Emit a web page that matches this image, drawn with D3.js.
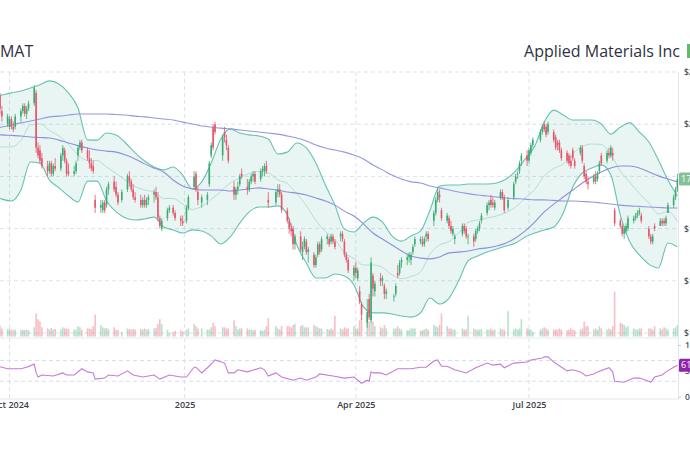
<!DOCTYPE html>
<html><head><meta charset="utf-8">
<script src="https://cdn.jsdelivr.net/npm/d3@7"></script>
<style>
html,body{margin:0;padding:0;background:#fff;overflow:hidden;}
svg{display:block;font-family:"Open Sans","Noto Sans",sans-serif;}
</style>
</head><body>
<svg id="chart" width="690" height="450"></svg>
<script>
// ---------- DATA ----------
const ticker = "AMAT";
const companyName = "Applied Materials Inc";

const months = ["2024-09","2024-10","2024-11","2024-12","2025-01","2025-02","2025-03","2025-04","2025-05","2025-06","2025-07","2025-08","2025-09"];
const sessionDays = [
  [23,24,25,26,27,30],
  [1,2,3,4,7,8,9,10,11,14,15,16,17,18,21,22,23,24,25,28,29,30,31],
  [1,4,5,6,7,8,11,12,13,14,15,18,19,20,21,22,25,26,27,29],
  [2,3,4,5,6,9,10,11,12,13,16,17,18,19,20,23,24,26,27,30,31],
  [2,3,6,7,8,10,13,14,15,16,17,21,22,23,24,27,28,29,30,31],
  [3,4,5,6,7,10,11,12,13,14,18,19,20,21,24,25,26,27,28],
  [3,4,5,6,7,10,11,12,13,14,17,18,19,20,21,24,25,26,27,28,31],
  [1,2,3,4,7,8,9,10,11,14,15,16,17,21,22,23,24,25,28,29,30],
  [1,2,5,6,7,8,9,12,13,14,15,16,19,20,21,22,23,27,28,29,30],
  [2,3,4,5,6,9,10,11,12,13,16,17,18,20,23,24,25,26,27,30],
  [1,2,3,7,8,9,10,11,14,15,16,17,18,21,22,23,24,25,28,29,30,31],
  [1,4,5,6,7,8,11,12,13,14,15,18,19,20,21,22,25,26,27,28,29],
  [2,3,4,5,8,9,10,11,12,15,16,17]
];

const opens = [
  190,193,195,211,205,200,
  199,202,199,199,203,205,207,204,206,208,212,191,190,187,184,182,185,181,184,183,188,190,186,
  182,181,182,188,191,193,190,187,185,184,171,168,167,170,169,175,178,176,173,171,
  175,180,178,175,172,171,169,171,169,171,173,174,172,164,160,164,167,168,166,164,163,
  163,168,176,181,174,170,171,177,188,199,200,188,197,194,191,176,173,175,177,181,
  176,175,178,180,181,179,182,182,184,171,170,174,175,173,167,163,160,160,154,
  157,151,153,155,151,150,146,150,154,152,156,156,155,157,155,157,158,155,150,148,142,
  145,141,136,131,124,133,125,142,136,141,140,138,135,134,135,143,143,147,148,149,148,
  151,154,155,155,154,157,158,163,166,171,173,167,163,164,161,158,156,158,161,160,157,
  157,156,159,160,163,166,169,171,170,168,172,174,172,168,172,178,181,182,186,188,
  186,189,192,194,197,200,199,197,197,195,193,193,190,189,188,186,190,186,189,191,184,181,
  178,178,180,179,182,188,186,189,188,189,167,163,161,158,159,160,163,164,165,166,165,
  160,157,155,161,161,163,163,162,166,169,172,175
];
const highs = [
  193,196,197,212,207,204,
  203,203,201,204,206,208,208,207,209,215,213,193,192,189,186,186,186,185,187,189,192,191,187,
  185,184,186,192,194,194,191,190,187,186,173,171,171,171,176,178,180,178,174,175,
  181,182,179,177,174,173,172,173,172,173,175,176,174,165,164,168,169,169,167,165,165,
  169,173,182,182,176,173,174,186,193,200,201,196,199,196,192,178,176,178,181,183,
  179,179,181,182,182,183,184,185,186,174,175,177,177,174,168,164,162,161,158,
  159,155,157,156,153,151,150,155,155,157,158,157,158,158,156,159,159,156,151,149,146,
  147,145,138,132,133,135,149,143,140,143,142,139,137,135,139,146,148,149,150,151,151,
  154,157,157,157,157,159,159,167,172,176,175,168,166,165,163,161,158,162,162,161,158,
  158,160,161,163,166,170,171,173,172,171,175,175,173,172,178,181,182,186,189,190,
  191,193,195,198,200,201,200,201,198,196,194,194,191,190,189,188,191,187,192,192,185,182,
  180,181,182,182,186,189,190,191,192,191,168,164,162,161,162,165,165,166,167,168,166,
  161,158,158,162,164,164,164,165,170,173,176,181
];
const lows = [
  189,191,193,204,201,199,
  198,198,197,198,201,204,203,202,205,207,189,187,185,183,180,181,180,180,182,182,186,185,180,
  180,180,181,186,190,189,186,183,182,181,166,166,166,166,168,173,174,172,169,170,
  174,176,174,171,170,168,168,168,168,169,170,171,163,160,159,163,166,165,163,161,161,
  162,167,175,174,169,168,169,176,187,190,196,186,193,190,185,171,171,173,176,179,
  173,174,177,178,177,178,180,180,181,168,169,172,172,166,162,158,157,152,152,
  151,148,152,150,147,145,145,149,150,151,154,153,154,154,152,155,155,149,147,143,140,
  141,140,131,125,122,125,124,134,134,138,138,133,133,132,134,141,142,145,146,147,146,
  150,153,154,153,153,155,155,161,165,170,170,163,162,160,158,157,154,157,158,156,154,
  153,155,158,159,162,165,167,168,168,167,171,171,166,167,171,177,179,181,184,184,
  185,188,191,193,196,197,195,196,193,190,190,189,186,185,184,183,186,183,188,185,179,177,
  175,177,177,178,181,184,185,187,187,186,161,160,157,156,158,159,162,163,164,165,162,
  156,154,154,159,161,161,161,161,166,168,171,174
];
const closes = [
  192,195,194,206,203,203,
  202,199,198,203,205,207,204,206,208,214,191,188,186,184,182,185,181,184,183,188,191,186,181,
  181,182,185,191,193,190,187,185,183,182,168,169,170,167,175,177,175,173,170,174,
  180,178,175,172,171,169,171,169,171,172,174,172,164,161,163,167,168,166,164,163,162,
  168,172,180,175,171,172,173,185,192,191,197,195,195,192,186,173,175,176,180,180,
  175,178,180,181,178,182,183,184,182,170,174,175,173,167,163,160,159,154,157,
  152,153,156,151,152,146,149,154,151,156,157,154,157,155,153,158,156,150,148,144,145,
  143,144,132,127,128,126,147,137,139,140,141,135,136,134,138,142,147,148,149,150,150,
  153,156,156,154,156,158,156,166,171,174,172,164,165,161,159,160,157,161,159,157,157,
  155,159,160,162,165,169,170,169,169,170,174,172,167,171,177,180,181,185,188,186,
  190,192,194,197,199,198,196,200,194,191,192,190,187,186,185,184,187,184,191,186,180,178,
  177,180,178,181,185,185,189,188,191,188,162,161,158,160,161,164,164,165,166,167,163,
  157,155,157,160,163,162,162,164,169,172,175,179
];
// volume, millions of shares
const volumes = [
  5.5,5.8,6.2,9.5,7,6.5,
  7,6,5.5,6,5.5,6,5.5,6,5.5,8,20,15,13,8,7,6,7.5,6,6.5,6,8,7,7,
  6.5,6,6,9,8,6,7,7,6.5,9,19,10,8,7,7.5,6.5,8,6,5.5,4,
  7,6.5,6,6.5,6,6.5,6,7,6,6.5,7,7.5,11,15,11,6,3,4,5,5.5,4.5,
  6,7,11,9,7,7,6,6,8,12,9,8,8,7,7,14,9,6,7,7,
  7,6,6,5.5,6,5.5,5,6,9,16,9,7,6,9,9,9,8,10,11,
  9,10,8,8,8,10,9,8,7,7,6.5,6,7,6,18,7,6,8,7,7,9,
  7,7,14,16,18,13,20,13,9,8,7,10,7,7,7,9,7,6,5.5,5.5,7,
  7,7,5,5.5,6,7,6,10,9,8,10,20,9,7,7,6,6,7,6,6,18,
  7,6,6,6,6.5,6,6,7,5.5,6,7,6,6,22,6,7,6,7,15,7,
  7,6,4,6,7,8,7,6,6,6,6,7,6,5.5,6,7,6,5.5,6,7,13,9,
  9,6,7,6,9,7,6,7,6,9,39,12,11,10,8,9,7,6,6,7,7,
  7,7,6,9,7,6,8,7,6,7,8,10
];

// indicator readings (every 5 calendar days)
const sampleDates = ["2024-09-22","2024-09-27","2024-10-02","2024-10-07","2024-10-12","2024-10-17","2024-10-22","2024-10-27","2024-11-01","2024-11-06","2024-11-11","2024-11-16","2024-11-21","2024-11-26","2024-12-01","2024-12-06","2024-12-11","2024-12-16","2024-12-21","2024-12-26","2024-12-31","2025-01-05","2025-01-10","2025-01-15","2025-01-20","2025-01-25","2025-01-30","2025-02-04","2025-02-09","2025-02-14","2025-02-19","2025-02-24","2025-03-01","2025-03-06","2025-03-11","2025-03-16","2025-03-21","2025-03-26","2025-03-31","2025-04-05","2025-04-10","2025-04-15","2025-04-20","2025-04-25","2025-04-30","2025-05-05","2025-05-10","2025-05-15","2025-05-20","2025-05-25","2025-05-30","2025-06-04","2025-06-09","2025-06-14","2025-06-19","2025-06-24","2025-06-29","2025-07-04","2025-07-09","2025-07-14","2025-07-19","2025-07-24","2025-07-29","2025-08-03","2025-08-08","2025-08-13","2025-08-18","2025-08-23","2025-08-28","2025-09-02","2025-09-07","2025-09-12","2025-09-17"];
const bbUpper = [210.4,211.2,212.0,212.7,213.9,215.1,216.6,215.4,212.0,206.2,194.0,193.9,196.6,195.9,192.8,189.0,185.9,183.6,182.5,183.6,180.5,175.2,177.9,185.1,194.3,198.2,196.6,195.9,195.5,194.3,188.6,189.3,192.8,190.9,185.1,176.7,169.0,159.8,158.7,162.1,164.4,162.5,157.2,155.2,157.2,159.1,167.1,176.3,176.7,176.7,177.1,177.1,177.1,177.5,179.0,182.1,186.7,191.6,200.8,205.4,203.5,201.6,201.6,201.6,200.1,196.2,198.9,200.5,197.0,193.2,186.3,178.6,172.5];
const bbLower = [172.9,171.3,170.6,174.8,185.5,185.1,178.6,175.6,172.5,170.2,178.2,178.2,170.6,166.4,164.1,163.3,163.7,164.4,160.6,159.5,158.3,159.5,159.1,157.2,154.1,156.8,162.1,166.4,168.3,168.3,168.7,165.2,153.7,146.8,141.1,141.1,142.6,141.8,138.4,130.0,127.7,127.7,127.3,126.5,126.1,127.7,133.4,131.1,133.4,139.9,147.6,149.5,151.0,152.2,153.3,154.5,156.8,158.3,159.5,160.6,166.0,175.9,181.3,183.2,184.4,180.5,165.2,154.9,149.9,146.4,144.9,154.5,153.0];
const sma200 = [198.2,198.9,199.7,200.5,201.2,202.0,202.8,203.1,203.5,203.9,203.9,203.9,203.9,203.7,203.5,203.1,202.8,202.4,202.0,201.6,200.8,200.1,199.3,198.9,198.5,198.2,197.8,197.4,197.0,196.6,196.2,195.5,194.7,193.6,192.0,190.9,190.1,189.3,188.2,186.7,184.4,182.5,180.5,179.0,177.9,177.5,176.3,175.6,174.8,174.0,173.4,172.9,172.5,172.1,171.7,171.5,171.3,171.0,171.0,170.8,170.6,170.6,170.4,170.2,169.8,169.4,169.0,168.7,168.5,168.3,168.1,167.9,167.9];
const sma50 = [196.0,195.9,195.7,195.5,195.1,194.9,194.7,193.9,192.8,191.8,190.9,190.1,189.7,189.3,188.2,186.7,184.8,183.2,181.7,178.6,176.3,175.2,174.8,174.8,174.8,174.4,174.8,175.2,175.6,175.2,174.8,174.0,173.6,172.9,171.7,170.6,169.0,166.7,164.8,161.8,158.3,156.0,153.7,151.4,149.5,148.7,148.4,149.1,150.7,151.0,151.4,152.2,152.6,153.3,154.5,156.4,159.1,162.5,166.4,169.4,172.1,174.8,177.5,179.8,181.7,183.2,184.0,184.0,183.2,181.7,180.2,179.0,177.9];

const rsiDates = ["2024-09-23","2024-09-26","2024-09-30","2024-10-07","2024-10-10","2024-10-14","2024-10-15","2024-10-16","2024-10-18","2024-10-24","2024-10-29","2024-10-31","2024-11-04","2024-11-08","2024-11-11","2024-11-14","2024-11-15","2024-11-20","2024-11-22","2024-11-27","2024-12-02","2024-12-05","2024-12-10","2024-12-16","2024-12-19","2024-12-24","2024-12-30","2025-01-02","2025-01-06","2025-01-07","2025-01-10","2025-01-13","2025-01-16","2025-01-17","2025-01-22","2025-01-24","2025-01-27","2025-01-29","2025-02-03","2025-02-10","2025-02-12","2025-02-14","2025-02-18","2025-02-21","2025-02-27","2025-03-03","2025-03-06","2025-03-11","2025-03-13","2025-03-20","2025-03-26","2025-03-31","2025-04-04","2025-04-07","2025-04-08","2025-04-09","2025-04-10","2025-04-14","2025-04-17","2025-04-23","2025-04-30","2025-05-05","2025-05-08","2025-05-12","2025-05-14","2025-05-16","2025-05-19","2025-05-23","2025-05-29","2025-06-03","2025-06-09","2025-06-12","2025-06-16","2025-06-18","2025-06-23","2025-06-30","2025-07-02","2025-07-08","2025-07-09","2025-07-11","2025-07-14","2025-07-21","2025-07-24","2025-07-28","2025-07-31","2025-08-04","2025-08-06","2025-08-12","2025-08-14","2025-08-15","2025-08-20","2025-08-25","2025-08-28","2025-09-02","2025-09-03","2025-09-05","2025-09-09","2025-09-11","2025-09-15","2025-09-17"];
const rsiValues = [60,58,54,54,57,63,46,38,42,40,46,42,42,54,48,46,34,36,42,40,50,42,38,42,34,42,38,38,57,57,46,56,67,71,65,46,46,52,48,56,52,40,46,38,32,36,32,38,44,40,36,38,26,32,30,48,46,46,42,54,54,57,57,69,71,59,59,52,46,56,65,61,63,56,65,67,71,75,77,77,67,50,52,48,40,44,48,56,48,30,28,36,36,30,28,38,42,48,57,61];

const priceTicks = [120,140,160,180,200,220];
const rsiTicks = [0,50,100];
const rsiLevels = [30,70];
const xTickDates = ["2024-10-01","2025-01-01","2025-04-01","2025-07-01"];
const xTickLabels = ["Oct 2024","2025","Apr 2025","Jul 2025"];

// ---------- CHART ----------
const parse = d3.timeParse("%Y-%m-%d");
const dates = [];
months.forEach((m, i) => sessionDays[i].forEach(d => dates.push(parse(m + "-" + String(d).padStart(2, "0")))));
const n = Math.min(dates.length, opens.length, highs.length, lows.length, closes.length, volumes.length);
const candles = d3.range(n).map(i => ({date: dates[i], o: opens[i], h: highs[i], l: lows[i], c: closes[i], v: volumes[i]}));

const bands = sampleDates.map((s, i) => ({date: parse(s), up: bbUpper[i], lo: bbLower[i], mid: (bbUpper[i] + bbLower[i]) / 2, s200: sma200[i], s50: sma50[i]}));
const rsi = rsiDates.map((s, i) => ({date: parse(s), v: rsiValues[i]}));

const svg = d3.select("#chart");
const plotRight = 678, priceTop = 72, priceBottom = 338, rsiBottom = 399;

const x = d3.scaleTime().domain([parse("2024-10-01"), parse("2025-07-01")]).range([9.5, 529]);
const yP = d3.scaleLinear().domain([120, 220]).range([333, 72]);
const yV = d3.scaleLinear().domain([0, 40]).range([336.5, 290.5]);
const yR = d3.scaleLinear().domain([0, 100]).range([396.7, 345]);

const UP = "#3aab74", DOWN = "#e5566a";
const gridColor = "#dae3ec";

const defs = svg.append("defs");
defs.append("clipPath").attr("id", "clipP").append("rect").attr("x", -40).attr("y", 60).attr("width", plotRight + 40).attr("height", priceBottom - 60);
defs.append("clipPath").attr("id", "clipR").append("rect").attr("x", -40).attr("y", priceBottom).attr("width", plotRight + 40).attr("height", rsiBottom - priceBottom);

// grid
const grid = svg.append("g");
grid.selectAll(".hg").data(priceTicks).join("line")
  .attr("x1", 0).attr("x2", plotRight).attr("y1", d => yP(d)).attr("y2", d => yP(d))
  .attr("stroke", gridColor).attr("stroke-dasharray", "4,3");
grid.selectAll(".vg").data(xTickDates).join("line")
  .attr("x1", d => x(parse(d))).attr("x2", d => x(parse(d))).attr("y1", priceTop).attr("y2", rsiBottom)
  .attr("stroke", gridColor).attr("stroke-dasharray", "4,3");
grid.selectAll(".rg").data(rsiLevels).join("line")
  .attr("x1", 0).attr("x2", plotRight).attr("y1", d => yR(d)).attr("y2", d => yR(d))
  .attr("stroke", "#d3e0ee").attr("stroke-dasharray", "4,3");
grid.append("line").attr("x1", 0).attr("x2", plotRight).attr("y1", priceBottom).attr("y2", priceBottom).attr("stroke", "#e6ebf0");
grid.append("line").attr("x1", 0).attr("x2", plotRight).attr("y1", rsiBottom).attr("y2", rsiBottom).attr("stroke", "#e1e6eb");
grid.append("line").attr("x1", plotRight + 0.5).attr("x2", plotRight + 0.5).attr("y1", priceTop).attr("y2", rsiBottom).attr("stroke", "#e1e6eb");

// price pane
const pp = svg.append("g").attr("clip-path", "url(#clipP)");
pp.append("path").datum(bands)
  .attr("d", d3.area().x(d => x(d.date)).y0(d => yP(d.lo)).y1(d => yP(d.up)).curve(d3.curveMonotoneX))
  .attr("fill", "rgba(52,168,150,0.11)");
const lineOf = key => d3.line().x(d => x(d.date)).y(d => yP(d[key])).curve(d3.curveMonotoneX);
pp.append("path").datum(bands).attr("d", lineOf("mid")).attr("fill", "none").attr("stroke", "#b3ded5").attr("stroke-width", 1);
pp.append("path").datum(bands).attr("d", lineOf("up")).attr("fill", "none").attr("stroke", "#68c2b1").attr("stroke-width", 1.1);
pp.append("path").datum(bands).attr("d", lineOf("lo")).attr("fill", "none").attr("stroke", "#68c2b1").attr("stroke-width", 1.1);
pp.append("path").datum(bands).attr("d", lineOf("s200")).attr("fill", "none").attr("stroke", "#9597e2").attr("stroke-width", 1.1);
pp.append("path").datum(bands).attr("d", lineOf("s50")).attr("fill", "none").attr("stroke", "#8e8fdc").attr("stroke-width", 1.1);

// volume
pp.selectAll(".vol").data(candles).join("rect")
  .attr("x", d => x(d.date) - 0.8).attr("width", 1.6)
  .attr("y", d => yV(d.v)).attr("height", d => yV(0) - yV(d.v))
  .attr("fill", d => d.c >= d.o ? "rgba(58,171,116,0.36)" : "rgba(229,86,106,0.38)");

// candles
pp.selectAll(".wick").data(candles).join("line")
  .attr("x1", d => x(d.date)).attr("x2", d => x(d.date))
  .attr("y1", d => yP(d.h)).attr("y2", d => yP(d.l))
  .attr("stroke", d => d.c >= d.o ? UP : DOWN).attr("stroke-width", 0.8);
pp.selectAll(".body").data(candles).join("rect")
  .attr("x", d => x(d.date) - 0.8).attr("width", 1.6)
  .attr("y", d => yP(Math.max(d.o, d.c)))
  .attr("height", d => Math.max(0.8, Math.abs(yP(d.o) - yP(d.c))))
  .attr("fill", d => d.c >= d.o ? UP : DOWN);

// RSI pane
const rp = svg.append("g").attr("clip-path", "url(#clipR)");
rp.append("path").datum(rsi)
  .attr("d", d3.line().x(d => x(d.date)).y(d => yR(d.v)))
  .attr("fill", "none").attr("stroke", "#c47bd8").attr("stroke-width", 1.1);

// axes
const axisFont = g => g.selectAll("text").attr("font-size", 8.5).attr("font-weight", 600).attr("fill", "#4b505c").attr("font-family", "'Open Sans',sans-serif");
svg.append("g").attr("transform", `translate(${plotRight},0)`)
  .call(d3.axisRight(yP).tickValues(priceTicks).tickFormat(d => "$" + d + ".00").tickSize(0).tickPadding(6))
  .call(g => g.select(".domain").remove()).call(axisFont);
svg.append("g").attr("transform", `translate(${plotRight},0)`)
  .call(d3.axisRight(yR).tickValues(rsiTicks).tickSize(3).tickPadding(4))
  .call(g => g.select(".domain").remove())
  .call(g => g.selectAll("line").attr("stroke", "#c5ccd4"))
  .call(axisFont);
svg.append("g").attr("transform", `translate(0,${rsiBottom})`)
  .call(d3.axisBottom(x).tickValues(xTickDates.map(parse)).tickFormat((d, i) => xTickLabels[i]).tickSize(0).tickPadding(3))
  .call(g => g.select(".domain").remove()).call(axisFont)
  .call(g => g.selectAll("text").attr("font-size", 9).attr("fill", "#3b404c"));

// last value tags
const last = candles[candles.length - 1];
const pt = svg.append("g").attr("transform", `translate(679,${yP(last.c)})`);
pt.append("rect").attr("x", 0).attr("y", -6.5).attr("width", 30).attr("height", 13).attr("rx", 1.5).attr("fill", last.c >= last.o ? "#86bf99" : "#e08a97");
pt.append("text").attr("x", 2).attr("y", 3.3).attr("font-size", 9).attr("fill", "#fff").attr("font-weight", 500).text(last.c.toFixed(2));
const lastR = rsi[rsi.length - 1];
const rt = svg.append("g").attr("transform", `translate(679,${yR(lastR.v)})`);
rt.append("rect").attr("x", 0).attr("y", -6.5).attr("width", 30).attr("height", 13).attr("rx", 1.5).attr("fill", "#8e24aa");
rt.append("text").attr("x", 2).attr("y", 3.3).attr("font-size", 9).attr("fill", "#fff").attr("font-weight", 500).text(lastR.v.toFixed(2));

// titles
svg.append("text").attr("x", -10.2).attr("y", 57).attr("font-size", 16).attr("fill", "#2e3242").text(ticker);
svg.append("text").attr("x", 680).attr("y", 57).attr("text-anchor", "end").attr("font-size", 16).attr("fill", "#2e3242").text(companyName);
svg.append("rect").attr("x", 687).attr("y", 44).attr("width", 12).attr("height", 14).attr("fill", "#63b96a");
</script>
</body></html>
